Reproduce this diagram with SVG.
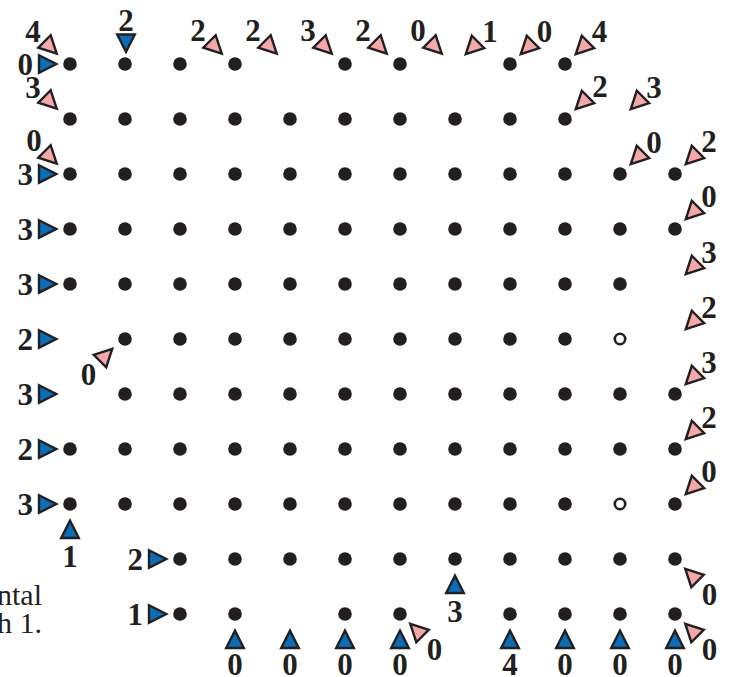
<svg xmlns="http://www.w3.org/2000/svg" xmlns:xlink="http://www.w3.org/1999/xlink" width="731" height="677" viewBox="0 0 731 677">
<style>
.d{fill:#231f20}
.h{fill:#fff;stroke:#231f20;stroke-width:2.6}
.b{fill:#0a6db5}
.p{fill:#f5a8aa}
text{font-family:"Liberation Serif","Times New Roman",serif;font-size:31px;font-weight:bold;fill:#231f20;text-anchor:middle}
.r{text-anchor:end}
.cap{font-weight:normal;text-anchor:end;font-size:30px}
</style>
<defs>
<polygon id="tri" points="-8.5,-8.8 8.8,0 -8.5,8.8" stroke="#231f20" stroke-width="2.4" stroke-linejoin="miter"/>
</defs>
<rect width="731" height="677" fill="#fff"/>
<g id="dots">
<circle class="d" cx="70" cy="64" r="6.8"/><circle class="d" cx="125" cy="64" r="6.8"/><circle class="d" cx="180" cy="64" r="6.8"/><circle class="d" cx="235" cy="64" r="6.8"/><circle class="d" cx="345" cy="64" r="6.8"/><circle class="d" cx="400" cy="64" r="6.8"/><circle class="d" cx="510" cy="64" r="6.8"/><circle class="d" cx="565" cy="64" r="6.8"/>
<circle class="d" cx="70" cy="119" r="6.8"/><circle class="d" cx="125" cy="119" r="6.8"/><circle class="d" cx="180" cy="119" r="6.8"/><circle class="d" cx="235" cy="119" r="6.8"/><circle class="d" cx="290" cy="119" r="6.8"/><circle class="d" cx="345" cy="119" r="6.8"/><circle class="d" cx="400" cy="119" r="6.8"/><circle class="d" cx="455" cy="119" r="6.8"/><circle class="d" cx="510" cy="119" r="6.8"/><circle class="d" cx="565" cy="119" r="6.8"/>
<circle class="d" cx="70" cy="174" r="6.8"/><circle class="d" cx="125" cy="174" r="6.8"/><circle class="d" cx="180" cy="174" r="6.8"/><circle class="d" cx="235" cy="174" r="6.8"/><circle class="d" cx="290" cy="174" r="6.8"/><circle class="d" cx="345" cy="174" r="6.8"/><circle class="d" cx="400" cy="174" r="6.8"/><circle class="d" cx="455" cy="174" r="6.8"/><circle class="d" cx="510" cy="174" r="6.8"/><circle class="d" cx="565" cy="174" r="6.8"/><circle class="d" cx="620" cy="174" r="6.8"/><circle class="d" cx="675" cy="174" r="6.8"/>
<circle class="d" cx="70" cy="229" r="6.8"/><circle class="d" cx="125" cy="229" r="6.8"/><circle class="d" cx="180" cy="229" r="6.8"/><circle class="d" cx="235" cy="229" r="6.8"/><circle class="d" cx="290" cy="229" r="6.8"/><circle class="d" cx="345" cy="229" r="6.8"/><circle class="d" cx="400" cy="229" r="6.8"/><circle class="d" cx="455" cy="229" r="6.8"/><circle class="d" cx="510" cy="229" r="6.8"/><circle class="d" cx="565" cy="229" r="6.8"/><circle class="d" cx="620" cy="229" r="6.8"/><circle class="d" cx="675" cy="229" r="6.8"/>
<circle class="d" cx="70" cy="284" r="6.8"/><circle class="d" cx="125" cy="284" r="6.8"/><circle class="d" cx="180" cy="284" r="6.8"/><circle class="d" cx="235" cy="284" r="6.8"/><circle class="d" cx="290" cy="284" r="6.8"/><circle class="d" cx="345" cy="284" r="6.8"/><circle class="d" cx="400" cy="284" r="6.8"/><circle class="d" cx="455" cy="284" r="6.8"/><circle class="d" cx="510" cy="284" r="6.8"/><circle class="d" cx="565" cy="284" r="6.8"/><circle class="d" cx="620" cy="284" r="6.8"/>
<circle class="d" cx="125" cy="339" r="6.8"/><circle class="d" cx="180" cy="339" r="6.8"/><circle class="d" cx="235" cy="339" r="6.8"/><circle class="d" cx="290" cy="339" r="6.8"/><circle class="d" cx="345" cy="339" r="6.8"/><circle class="d" cx="400" cy="339" r="6.8"/><circle class="d" cx="455" cy="339" r="6.8"/><circle class="d" cx="510" cy="339" r="6.8"/><circle class="d" cx="565" cy="339" r="6.8"/><circle class="h" cx="620" cy="339" r="5.2"/>
<circle class="d" cx="125" cy="394" r="6.8"/><circle class="d" cx="180" cy="394" r="6.8"/><circle class="d" cx="235" cy="394" r="6.8"/><circle class="d" cx="290" cy="394" r="6.8"/><circle class="d" cx="345" cy="394" r="6.8"/><circle class="d" cx="400" cy="394" r="6.8"/><circle class="d" cx="455" cy="394" r="6.8"/><circle class="d" cx="510" cy="394" r="6.8"/><circle class="d" cx="565" cy="394" r="6.8"/><circle class="d" cx="620" cy="394" r="6.8"/><circle class="d" cx="675" cy="394" r="6.8"/>
<circle class="d" cx="70" cy="449" r="6.8"/><circle class="d" cx="125" cy="449" r="6.8"/><circle class="d" cx="180" cy="449" r="6.8"/><circle class="d" cx="235" cy="449" r="6.8"/><circle class="d" cx="290" cy="449" r="6.8"/><circle class="d" cx="345" cy="449" r="6.8"/><circle class="d" cx="400" cy="449" r="6.8"/><circle class="d" cx="455" cy="449" r="6.8"/><circle class="d" cx="510" cy="449" r="6.8"/><circle class="d" cx="565" cy="449" r="6.8"/><circle class="d" cx="620" cy="449" r="6.8"/><circle class="d" cx="675" cy="449" r="6.8"/>
<circle class="d" cx="70" cy="504" r="6.8"/><circle class="d" cx="125" cy="504" r="6.8"/><circle class="d" cx="180" cy="504" r="6.8"/><circle class="d" cx="235" cy="504" r="6.8"/><circle class="d" cx="290" cy="504" r="6.8"/><circle class="d" cx="345" cy="504" r="6.8"/><circle class="d" cx="400" cy="504" r="6.8"/><circle class="d" cx="455" cy="504" r="6.8"/><circle class="d" cx="510" cy="504" r="6.8"/><circle class="d" cx="565" cy="504" r="6.8"/><circle class="h" cx="620" cy="504" r="5.2"/><circle class="d" cx="675" cy="504" r="6.8"/>
<circle class="d" cx="180" cy="559" r="6.8"/><circle class="d" cx="235" cy="559" r="6.8"/><circle class="d" cx="290" cy="559" r="6.8"/><circle class="d" cx="345" cy="559" r="6.8"/><circle class="d" cx="400" cy="559" r="6.8"/><circle class="d" cx="455" cy="559" r="6.8"/><circle class="d" cx="510" cy="559" r="6.8"/><circle class="d" cx="565" cy="559" r="6.8"/><circle class="d" cx="620" cy="559" r="6.8"/><circle class="d" cx="675" cy="559" r="6.8"/>
<circle class="d" cx="180" cy="614" r="6.8"/><circle class="d" cx="235" cy="614" r="6.8"/><circle class="d" cx="345" cy="614" r="6.8"/><circle class="d" cx="400" cy="614" r="6.8"/><circle class="d" cx="510" cy="614" r="6.8"/><circle class="d" cx="565" cy="614" r="6.8"/><circle class="d" cx="620" cy="614" r="6.8"/><circle class="d" cx="675" cy="614" r="6.8"/>
</g>
<g id="row-clues">
<use xlink:href="#tri" class="b" transform="translate(47.5,64)"/><text class="r" x="33" y="75">0</text>
<use xlink:href="#tri" class="b" transform="translate(47.5,174)"/><text class="r" x="33" y="185">3</text>
<use xlink:href="#tri" class="b" transform="translate(47.5,229)"/><text class="r" x="33" y="240">3</text>
<use xlink:href="#tri" class="b" transform="translate(47.5,284)"/><text class="r" x="33" y="295">3</text>
<use xlink:href="#tri" class="b" transform="translate(47.5,339)"/><text class="r" x="33" y="350">2</text>
<use xlink:href="#tri" class="b" transform="translate(47.5,394)"/><text class="r" x="33" y="405">3</text>
<use xlink:href="#tri" class="b" transform="translate(47.5,449)"/><text class="r" x="33" y="460">2</text>
<use xlink:href="#tri" class="b" transform="translate(47.5,504)"/><text class="r" x="33" y="515">3</text>
<use xlink:href="#tri" class="b" transform="translate(157.5,559)"/><text class="r" x="143" y="570">2</text>
<use xlink:href="#tri" class="b" transform="translate(157.5,614)"/><text class="r" x="143" y="625">1</text>
</g>
<g id="column-clues">
<use xlink:href="#tri" class="b" transform="translate(126,43) rotate(90)"/><text x="126" y="31">2</text>
<use xlink:href="#tri" class="b" transform="translate(70,529.5) rotate(-90)"/><text x="70" y="567">1</text>
<use xlink:href="#tri" class="b" transform="translate(455,584.5) rotate(-90)"/><text x="455" y="622">3</text>
<use xlink:href="#tri" class="b" transform="translate(235,639.5) rotate(-90)"/><text x="235" y="675">0</text>
<use xlink:href="#tri" class="b" transform="translate(290,639.5) rotate(-90)"/><text x="290" y="675">0</text>
<use xlink:href="#tri" class="b" transform="translate(345,639.5) rotate(-90)"/><text x="345" y="675">0</text>
<use xlink:href="#tri" class="b" transform="translate(400,639.5) rotate(-90)"/><text x="400" y="675">0</text>
<use xlink:href="#tri" class="b" transform="translate(510,639.5) rotate(-90)"/><text x="510" y="675">4</text>
<use xlink:href="#tri" class="b" transform="translate(565,639.5) rotate(-90)"/><text x="565" y="675">0</text>
<use xlink:href="#tri" class="b" transform="translate(620,639.5) rotate(-90)"/><text x="620" y="675">0</text>
<use xlink:href="#tri" class="b" transform="translate(675,639.5) rotate(-90)"/><text x="675" y="675">0</text>
</g>
<g id="diagonal-clues">
<use xlink:href="#tri" class="p" transform="translate(50.5,47.5) rotate(45)"/><text x="33" y="42">4</text>
<use xlink:href="#tri" class="p" transform="translate(215.5,47.5) rotate(45)"/><text x="198" y="41">2</text>
<use xlink:href="#tri" class="p" transform="translate(270.5,47.5) rotate(45)"/><text x="253" y="41">2</text>
<use xlink:href="#tri" class="p" transform="translate(325.5,47.5) rotate(45)"/><text x="308" y="41">3</text>
<use xlink:href="#tri" class="p" transform="translate(380.5,47.5) rotate(45)"/><text x="363" y="41">2</text>
<use xlink:href="#tri" class="p" transform="translate(435.5,47.5) rotate(45)"/><text x="418" y="41">0</text>
<use xlink:href="#tri" class="p" transform="translate(50.5,102.5) rotate(45)"/><text x="33" y="98">3</text>
<use xlink:href="#tri" class="p" transform="translate(50.5,157.5) rotate(45)"/><text x="34" y="151">0</text>
<use xlink:href="#tri" class="p" transform="translate(472,48) rotate(135)"/><text x="490" y="42">1</text>
<use xlink:href="#tri" class="p" transform="translate(527,48) rotate(135)"/><text x="544.5" y="42">0</text>
<use xlink:href="#tri" class="p" transform="translate(582,48) rotate(135)"/><text x="599.5" y="42">4</text>
<use xlink:href="#tri" class="p" transform="translate(582,103) rotate(135)"/><text x="600" y="97">2</text>
<use xlink:href="#tri" class="p" transform="translate(637,103) rotate(135)"/><text x="654" y="98">3</text>
<use xlink:href="#tri" class="p" transform="translate(637,158) rotate(135)"/><text x="654" y="153">0</text>
<use xlink:href="#tri" class="p" transform="translate(692,158) rotate(135)"/><text x="709" y="152">2</text>
<use xlink:href="#tri" class="p" transform="translate(692,213) rotate(135)"/><text x="709" y="207">0</text>
<use xlink:href="#tri" class="p" transform="translate(692,268) rotate(135)"/><text x="709" y="263">3</text>
<use xlink:href="#tri" class="p" transform="translate(692,323) rotate(135)"/><text x="709" y="318">2</text>
<use xlink:href="#tri" class="p" transform="translate(692,378) rotate(135)"/><text x="709" y="373">3</text>
<use xlink:href="#tri" class="p" transform="translate(692,433) rotate(135)"/><text x="709" y="428">2</text>
<use xlink:href="#tri" class="p" transform="translate(692,488) rotate(135)"/><text x="709" y="482">0</text>
<use xlink:href="#tri" class="p" transform="translate(691.5,575) rotate(225)"/><text x="709.5" y="605">0</text>
<use xlink:href="#tri" class="p" transform="translate(691.5,630) rotate(225)"/><text x="709.5" y="660">0</text>
<use xlink:href="#tri" class="p" transform="translate(416.5,630) rotate(225)"/><text x="434.5" y="660">0</text>
<use xlink:href="#tri" class="p" transform="translate(106,355) rotate(-45)"/><text x="88.5" y="385">0</text>
</g>
<g id="caption">
<text class="cap" x="42" y="605">ntal</text>
<text class="cap" x="42" y="633">h 1.</text>
</g>
</svg>
